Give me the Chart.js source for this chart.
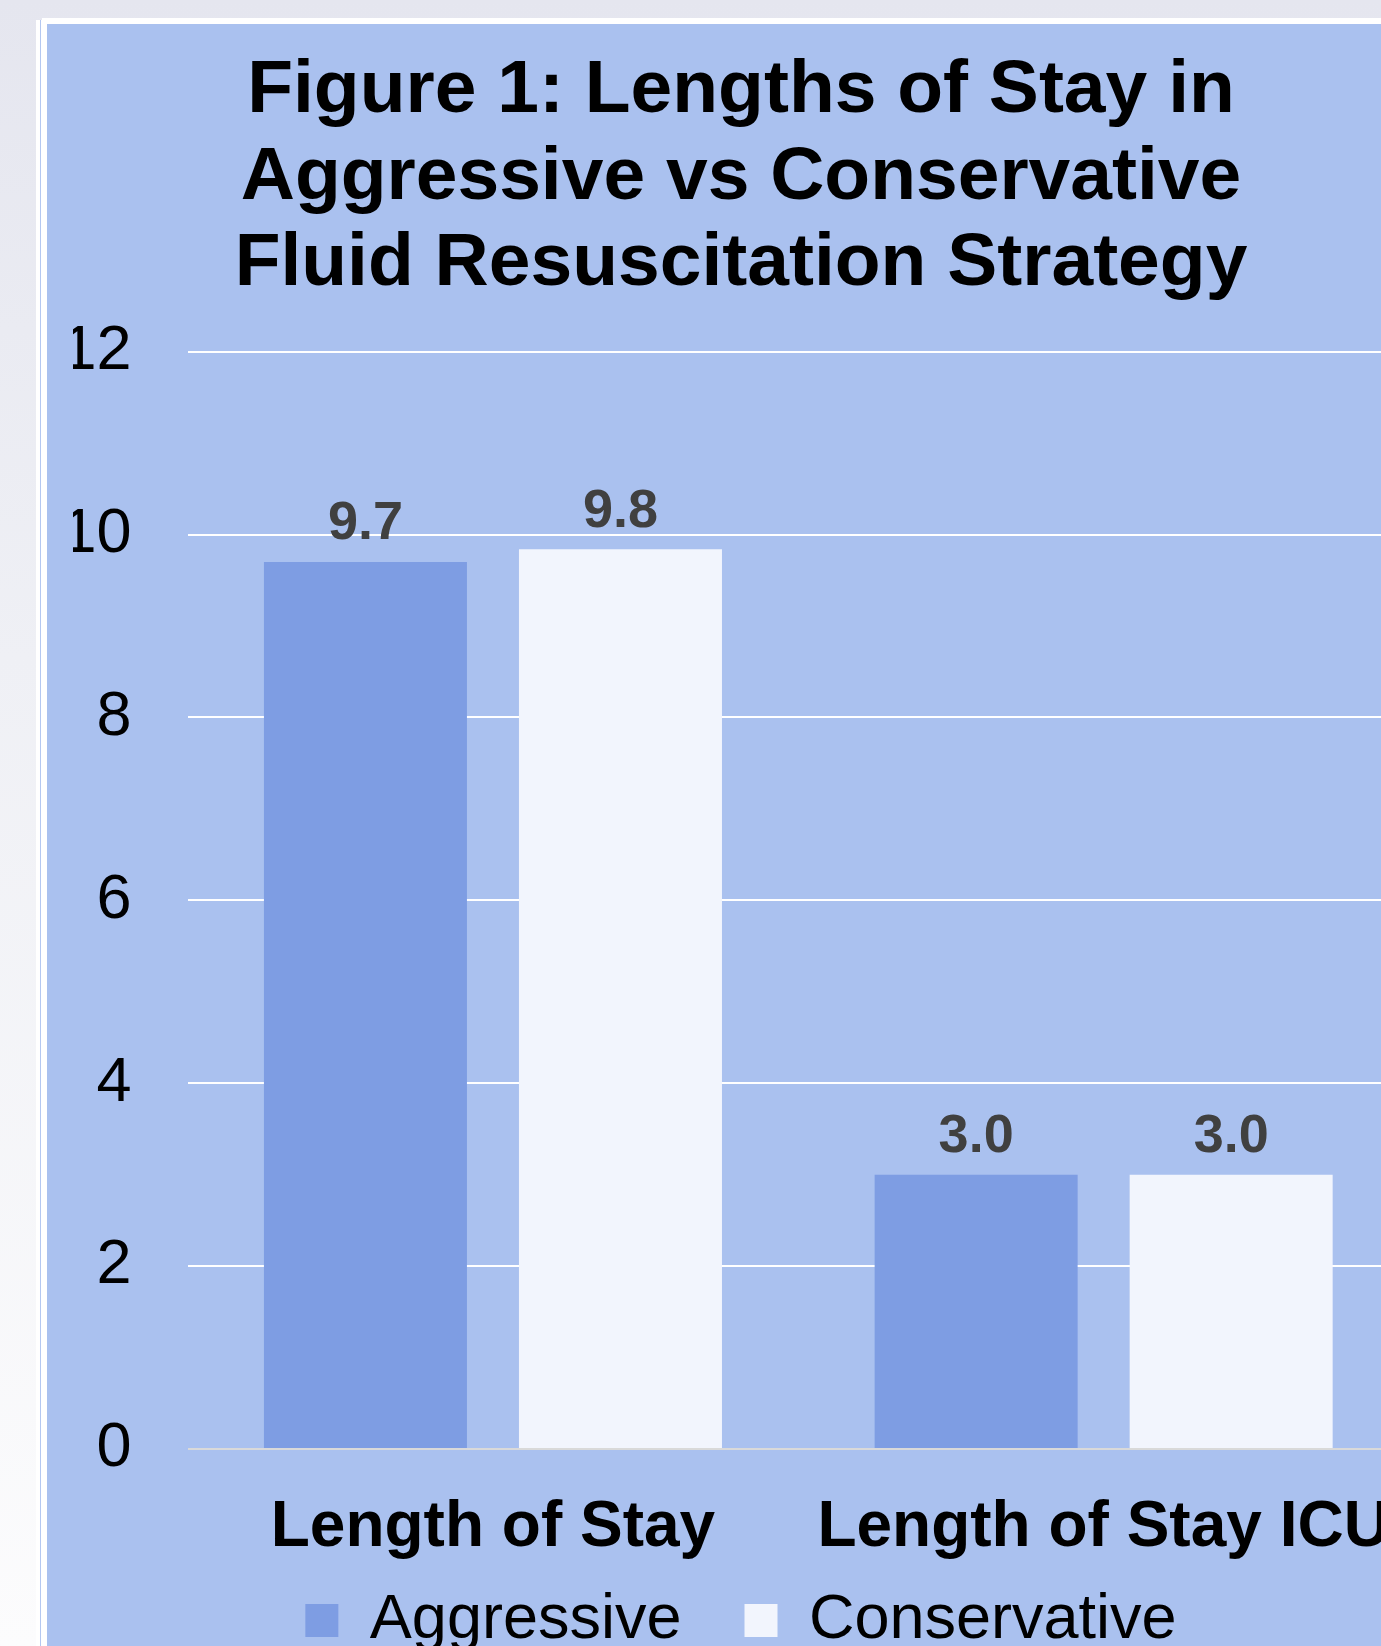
<!DOCTYPE html>
<html>
<head>
<meta charset="utf-8">
<script src="https://cdn.jsdelivr.net/npm/chart.js@4.4.1/dist/chart.umd.min.js"></script>
<style>
  html, body {
    margin: 0;
    width: 1381px;
    height: 1646px;
    overflow: hidden;
    background: linear-gradient(to bottom, #e5e6ef 0%, #eff0f5 40%, #fcfcfd 100%);
    position: relative;
  }
  .frame { position: absolute; left: 36px; top: 20px; width: 1500px; height: 1700px; background: #fff; }
  .frame-line { position: absolute; left: 39.5px; top: 20px; width: 1.5px; height: 1700px; background: #b3c7f1; }
  .frame-top { position: absolute; left: 42px; top: 18px; width: 1500px; height: 1700px; background: #fff; }
  .panel { position: absolute; left: 47px; top: 24px; background: #aac1ef; }
  canvas { display: block; }
</style>
</head>
<body>
<div class="frame"></div>
<div class="frame-line"></div>
<div class="frame-top"></div>
<div class="panel"><canvas id="chart" width="1388" height="1640"></canvas></div>
<script>
const titleLines = ['Figure 1: Lengths of Stay in', 'Aggressive vs Conservative', 'Fluid Resuscitation Strategy'];
const categories = ['Length of Stay', 'Length of Stay ICU'];
const seriesNames = ['Aggressive', 'Conservative'];
const aggressive = [9.7, 3.0];
const conservative = [9.84, 3.0];
const yMin = 0;
const yMax = 12;
const yStep = 2;

const FONT = '"Liberation Sans", Arial, sans-serif';

// value labels above each bar
const barLabels = {
  id: 'barLabels',
  afterDatasetsDraw(chart) {
    const ctx = chart.ctx;
    ctx.save();
    ctx.font = 'bold 54px ' + FONT;
    ctx.fillStyle = '#404040';
    ctx.textAlign = 'center';
    ctx.textBaseline = 'alphabetic';
    chart.data.datasets.forEach((ds, i) => {
      chart.getDatasetMeta(i).data.forEach((bar, j) => {
        ctx.fillText(ds.data[j].toFixed(1), bar.x, bar.y - 22.5);
      });
    });
    ctx.restore();
  }
};

const ctx = document.getElementById('chart').getContext('2d');

new Chart(ctx, {
  type: 'bar',
  data: {
    labels: categories,
    datasets: [
      {
        label: seriesNames[0],
        data: aggressive,
        backgroundColor: '#7e9de3',
        categoryPercentage: 0.8352,
        barPercentage: 0.796,
      },
      {
        label: seriesNames[1],
        data: conservative,
        backgroundColor: '#f2f5fd',
        categoryPercentage: 0.8352,
        barPercentage: 0.796,
      },
    ],
  },
  options: {
    responsive: false,
    animation: false,
    layout: {
      padding: { left: 26, right: 26, top: 0, bottom: 2 },
    },
    scales: {
      x: {
        grid: { display: false },
        border: { display: false },
        ticks: {
          color: '#000000',
          padding: 33.4,
          font: { family: FONT, size: 64, weight: 'bold' },
        },
        afterFit(scale) {
          scale.height = 112;
        },
      },
      y: {
        min: yMin,
        max: yMax,
        border: { display: false },
        grid: {
          drawTicks: false,
          lineWidth: 2,
          color: c => (c.tick && c.tick.value === 0 ? '#d9d9d9' : '#ffffff'),
        },
        ticks: {
          stepSize: yStep,
          color: '#000000',
          padding: 56,
          font: { family: FONT, size: 63 },
        },
        afterFit(scale) {
          scale.width = 114.6;
        },
      },
    },
    plugins: {
      title: {
        display: true,
        text: titleLines,
        color: '#000000',
        font: { family: FONT, size: 75, weight: 'bold', lineHeight: 1.153 },
        padding: { top: 24.5, bottom: 43.7 },
      },
      legend: {
        position: 'bottom',
        labels: {
          color: '#000000',
          boxWidth: 33,
          boxHeight: 33,
          padding: 28,
          font: { family: FONT, size: 63 },
          // a little extra room after the first entry, as in the original
          generateLabels(chart) {
            const items = Chart.defaults.plugins.legend.labels.generateLabels(chart);
            items[0].text = items[0].text + '  ';
            return items;
          },
        },
      },
      tooltip: { enabled: false },
    },
  },
  plugins: [barLabels],
});
</script>
</body>
</html>
